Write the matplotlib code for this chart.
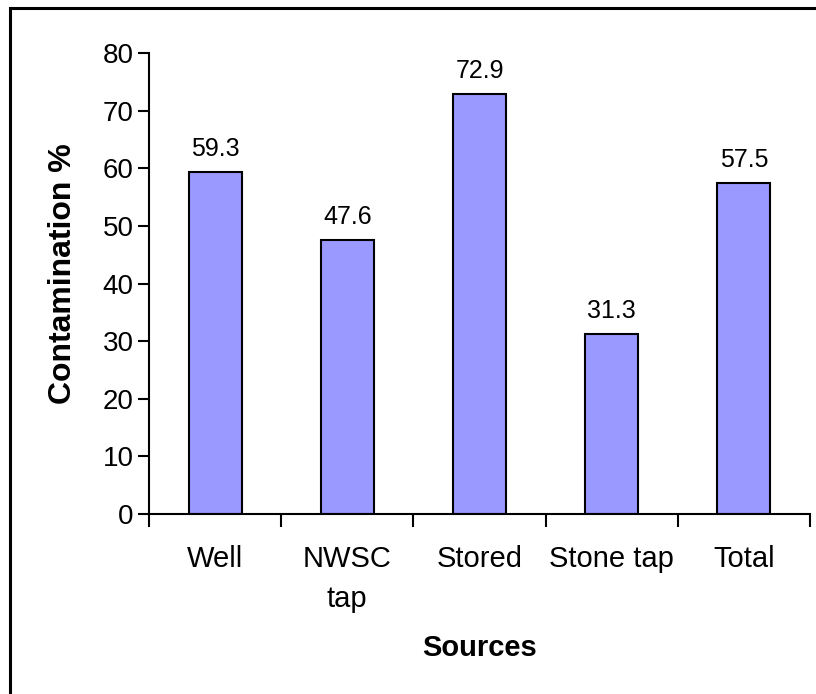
import matplotlib
matplotlib.use("Agg")
import matplotlib.pyplot as plt
from matplotlib.patches import Rectangle
import numpy as np

categories = ["Well", "NWSC\ntap", "Stored", "Stone tap", "Total"]
values = [59.3, 47.6, 72.9, 31.3, 57.5]
yticks = [0, 10, 20, 30, 40, 50, 60, 70, 80]

plt.rcParams['font.family'] = ['Liberation Sans', 'DejaVu Sans']

W, H = 816, 694
fig = plt.figure(figsize=(W / 100, H / 100), dpi=100)
ax = fig.add_axes([149 / W, 1 - 514 / H, (810 - 149) / W, (514 - 53) / H])

x = np.arange(len(categories))
bars = ax.bar(x, values, width=0.4, color="#9999FF", edgecolor="black", linewidth=1.5)
for xi, v in zip(x, values):
    ax.text(xi, v + 1.9, f"{v:.1f}", ha="center", va="bottom", fontsize=18)

ax.set_xlim(-0.5, len(categories) - 0.5)
ax.set_ylim(0, 80)
ax.set_yticks(yticks)
ax.set_yticklabels([str(t) for t in yticks], fontsize=20)
ax.tick_params(axis="y", direction="out", length=8, width=1.5, pad=3)

ax.set_xticks(x)
ax.set_xticklabels(categories, fontsize=21, linespacing=1.55, va="top")
ax.tick_params(axis="x", which="major", length=0, pad=22)
ax.set_xticks(np.arange(-0.5, len(categories) + 0.5, 1.0), minor=True)
ax.tick_params(axis="x", which="minor", direction="out", length=9, width=1.5)

for s in ["top", "right"]:
    ax.spines[s].set_visible(False)
for s in ["left", "bottom"]:
    ax.spines[s].set_linewidth(1.5)

fig.text(480 / W, 1 - 648 / H, "Sources", ha="center", va="center",
         fontsize=21, fontweight="bold")
fig.text(63 / W, 1 - 274 / H, "Contamination %", ha="center", va="center",
         rotation=90, fontsize=23, fontweight="bold")

fig.patches.append(Rectangle((10 / W, -0.05), 1.2, 1 - 8 / H + 0.05,
                             transform=fig.transFigure, fill=False,
                             edgecolor="black", linewidth=2.2))

fig.savefig("out.png", dpi=100, facecolor="white")
